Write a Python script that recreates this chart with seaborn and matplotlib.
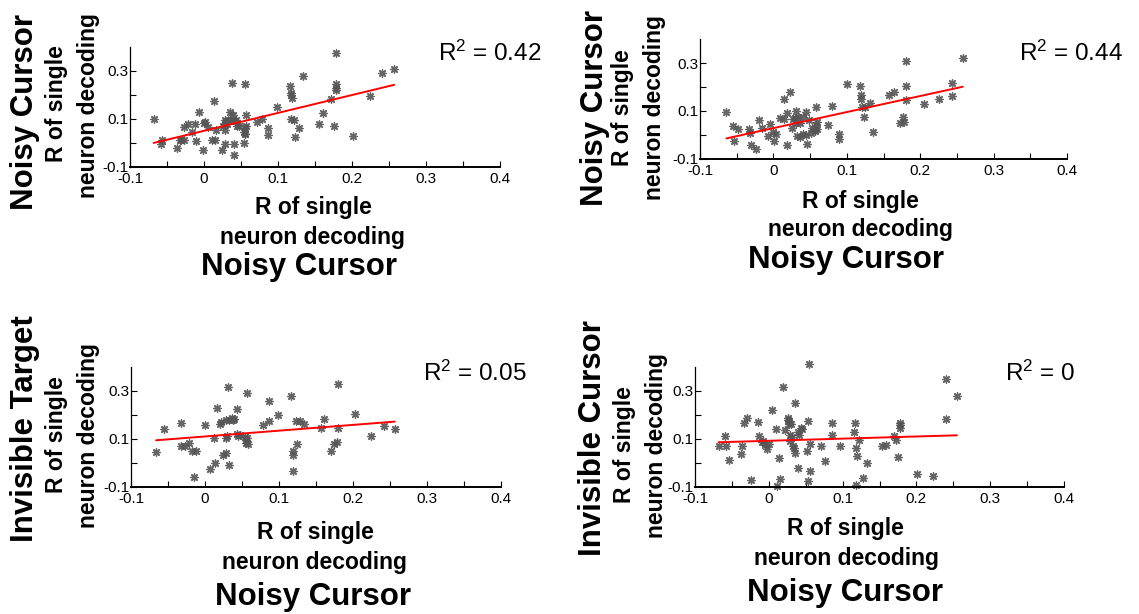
import matplotlib
matplotlib.use("Agg")
import matplotlib.pyplot as plt
import numpy as np
import pandas as pd
import seaborn as sns
from matplotlib.ticker import FixedLocator, NullFormatter

# ---------------- data ----------------
p1_x = [-0.068, -0.057, -0.058, -0.036, -0.033, -0.031, -0.027, -0.027, -0.022, -0.012,
        -0.016, -0.011, -0.007, -0.001, 0.000, 0.001, 0.006, 0.011, 0.014, 0.015,
        0.016, 0.024, 0.029, 0.028, 0.029, 0.029, 0.031, 0.033, 0.035, 0.038,
        0.039, 0.041, 0.041, 0.043, 0.045, 0.054, 0.054, 0.055, 0.056, 0.057,
        0.056, 0.057, 0.072, 0.078, 0.086, 0.087, 0.098, 0.116, 0.117, 0.118,
        0.119, 0.118, 0.121, 0.123, 0.128, 0.134, 0.156, 0.161, 0.171, 0.176,
        0.179, 0.179, 0.179, 0.179, 0.202, 0.224, 0.241, 0.257, 0.037, 0.030,
        0.042, 0.047, 0.055, 0.026]
p1_y = [0.100, 0.013, -0.006, -0.021, 0.010, 0.010, 0.010, 0.066, 0.077, 0.077,
        0.045, 0.008, 0.126, -0.030, 0.082, 0.086, 0.066, 0.013, 0.173, 0.010,
        0.054, -0.031, -0.006, 0.079, 0.093, 0.054, 0.077, 0.096, 0.128, 0.248,
        0.114, -0.006, -0.052, 0.096, 0.068, 0.000, 0.045, 0.038, 0.063, 0.114,
        0.242, 0.068, 0.086, 0.097, 0.061, 0.031, 0.148, 0.234, 0.206, 0.197,
        0.184, 0.100, 0.093, 0.024, 0.061, 0.277, 0.079, 0.123, 0.180, 0.070,
        0.373, 0.242, 0.228, 0.217, 0.028, 0.194, 0.288, 0.307, 0.093, 0.086,
        0.089, 0.068, 0.034, 0.070]

p2_x = [-0.064, -0.055, -0.048, -0.054, -0.033, -0.032, -0.030, -0.024, -0.019, -0.015,
        -0.008, -0.005, -0.001, 0.001, 0.004, 0.009, 0.014, 0.015, 0.018, 0.019,
        0.023, 0.026, 0.030, 0.031, 0.031, 0.032, 0.034, 0.036, 0.040, 0.041,
        0.044, 0.044, 0.046, 0.051, 0.056, 0.058, 0.058, 0.059, 0.059, 0.075,
        0.080, 0.089, 0.089, 0.100, 0.118, 0.120, 0.120, 0.121, 0.124, 0.125,
        0.131, 0.136, 0.158, 0.164, 0.172, 0.176, 0.178, 0.181, 0.181, 0.181,
        0.205, 0.226, 0.243, 0.243, 0.258, 0.027, 0.036, 0.048, 0.053, 0.057]
p2_y = [0.094, 0.038, 0.023, -0.026, 0.023, 0.009, -0.043, -0.061, 0.062, 0.027,
        -0.005, 0.044, 0.013, -0.026, 0.003, 0.072, 0.068, 0.149, -0.043, 0.090,
        0.181, 0.030, 0.069, 0.100, 0.048, -0.005, 0.073, -0.011, 0.073, 0.002,
        0.097, -0.001, -0.040, 0.009, 0.016, 0.041, 0.115, 0.023, 0.055, 0.041,
        0.121, 0.003, -0.019, 0.214, 0.205, 0.165, 0.149, 0.115, 0.076, 0.118,
        0.135, 0.013, 0.165, 0.181, 0.048, 0.076, 0.052, 0.309, 0.205, 0.146,
        0.128, 0.149, 0.216, 0.163, 0.322, 0.065, 0.050, 0.062, 0.030, 0.020]

p3_x = [-0.066, -0.056, -0.033, -0.032, -0.027, -0.022, -0.018, -0.012, -0.015, 0.000,
        0.007, 0.012, 0.014, 0.016, 0.021, 0.025, 0.028, 0.029, 0.030, 0.031,
        0.033, 0.029, 0.038, 0.040, 0.043, 0.044, 0.048, 0.054, 0.056, 0.057,
        0.057, 0.058, 0.079, 0.087, 0.087, 0.099, 0.116, 0.119, 0.119, 0.119,
        0.123, 0.124, 0.129, 0.134, 0.157, 0.161, 0.171, 0.175, 0.179, 0.180,
        0.180, 0.203, 0.225, 0.242, 0.257, 0.032, 0.036, 0.022, 0.045, 0.055]
p3_y = [0.047, 0.140, 0.165, 0.071, 0.071, 0.082, 0.051, 0.051, -0.060, 0.158,
        -0.025, 0.103, 0.001, 0.228, 0.163, 0.033, 0.040, 0.179, 0.113, 0.315,
        -0.011, 0.103, 0.179, 0.182, 0.224, 0.121, 0.117, 0.107, 0.082, 0.293,
        0.103, 0.079, 0.158, 0.176, 0.260, 0.200, 0.279, 0.051, 0.033, -0.033,
        0.176, 0.079, 0.176, 0.161, 0.147, 0.182, 0.051, 0.079, 0.086, 0.328,
        0.147, 0.203, 0.113, 0.154, 0.140, 0.180, 0.185, 0.170, 0.110, 0.095]

p4_x = [-0.068, -0.059, -0.058, -0.054, -0.036, -0.038, -0.034, -0.029, -0.024, -0.014,
        -0.013, -0.009, -0.005, -0.003, 0.000, 0.005, 0.010, 0.011, 0.014, 0.015,
        0.019, 0.022, 0.026, 0.027, 0.028, 0.029, 0.029, 0.031, 0.033, 0.036,
        0.036, 0.039, 0.041, 0.043, 0.045, 0.053, 0.052, 0.053, 0.055, 0.056,
        0.056, 0.071, 0.076, 0.085, 0.085, 0.096, 0.115, 0.117, 0.118, 0.118,
        0.120, 0.122, 0.128, 0.133, 0.154, 0.159, 0.170, 0.173, 0.175, 0.178,
        0.178, 0.178, 0.201, 0.223, 0.240, 0.240, 0.255, 0.026, 0.030, 0.040,
        -0.008, 0.034]
p4_y = [0.069, 0.111, 0.069, 0.013, 0.072, 0.038, 0.164, 0.188, -0.071, 0.170,
        0.111, 0.086, 0.076, 0.058, 0.080, 0.219, 0.142, -0.096, 0.020, -0.068,
        0.318, 0.135, 0.188, 0.174, 0.163, 0.118, 0.090, 0.107, 0.069, 0.248,
        0.041, -0.022, 0.114, 0.146, 0.142, 0.174, 0.048, -0.075, 0.412, -0.033,
        0.080, 0.069, 0.006, 0.167, 0.114, 0.069, 0.128, 0.167, 0.062, -0.092,
        0.027, 0.097, -0.064, -0.003, 0.072, 0.076, 0.111, 0.094, 0.023, 0.167,
        0.156, 0.146, -0.047, -0.057, 0.349, 0.184, 0.279, 0.180, 0.160, 0.130,
        0.090, 0.060]

row_titles = ["Noisy Cursor", "Noisy Cursor", "Invisible Target", "Invisible Cursor"]
col_title = "Noisy Cursor"
r2_values = ["0.42", "0.44", "0.05", "0"]
label_lines = ["R of single", "neuron decoding"]
x_ticks = [-0.1, 0.0, 0.1, 0.2, 0.3, 0.4]
x_tick_labels = ["-0.1", "0", "0.1", "0.2", "0.3", "0.4"]
x_minor = [-0.05, 0.05, 0.15, 0.25, 0.35]
y_ticks = [-0.1, 0.1, 0.3]
y_tick_labels = ["-0.1", "0.1", "0.3"]
y_minor = [0.0, 0.2]

# ---------------- styling ----------------
sns.set_style("white")
plt.rcParams["font.family"] = ["Liberation Sans", "DejaVu Sans"]
plt.rcParams["axes.unicode_minus"] = False
plt.rcParams["mathtext.fontset"] = "custom"
plt.rcParams["mathtext.rm"] = "Liberation Sans"
plt.rcParams["mathtext.it"] = "Liberation Sans"
plt.rcParams["mathtext.default"] = "regular"
plt.rcParams["text.color"] = "black"
plt.rcParams["axes.labelcolor"] = "black"
plt.rcParams["xtick.color"] = "black"
plt.rcParams["ytick.color"] = "black"

W, H = 1139, 614
fig = plt.figure(figsize=(W / 100, H / 100), dpi=100)
fig.patch.set_facecolor("white")


def rect(l, t, r, b):
    return [l / W, 1 - b / H, (r - l) / W, (b - t) / H]


def ftext(x, y, s, **kw):
    fig.text(x / W, 1 - y / H, s, color="black", **kw)


panels = [
    dict(x=p1_x, y=p1_y, box=(130, 46.5, 500, 166.7),
         r2=(438, 53), xl=((313, 208), (313, 238), (299, 267)),
         yl=((25, 112), (57, 104), (89, 106))),
    dict(x=p2_x, y=p2_y, box=(700, 39.5, 1067, 158.5),
         r2=(1019, 53), xl=((860, 202), (860, 230), (846, 260)),
         yl=((595, 108), (623, 108), (654, 108))),
    dict(x=p3_x, y=p3_y, box=(131, 367, 500.5, 486.7),
         r2=(423, 373), xl=((315, 533), (315, 563), (313, 597)),
         yl=((25, 429), (57, 435), (89, 436))),
    dict(x=p4_x, y=p4_y, box=(695, 367, 1064, 486.7),
         r2=(1005, 373), xl=((845, 528), (846, 558), (845, 593)),
         yl=((593, 438), (625, 445), (657, 445))),
]

star = (8, 2, 0)
for i, p in enumerate(panels):
    ax = fig.add_axes(rect(*p["box"]))
    df = pd.DataFrame({"x": p["x"], "y": p["y"]})
    sns.regplot(data=df, x="x", y="y", ax=ax, ci=None, marker=star,
                color="#555555",
                scatter_kws=dict(s=28, linewidths=1.0, alpha=0.9, clip_on=False),
                line_kws=dict(color="red", lw=1.4))
    ax.set_xlim(-0.1, 0.4)
    ax.set_ylim(-0.1, 0.4)
    ax.set_xlabel("")
    ax.set_ylabel("")
    ax.xaxis.set_major_locator(FixedLocator(x_ticks))
    ax.set_xticklabels(x_tick_labels)
    ax.xaxis.set_minor_locator(FixedLocator(x_minor))
    ax.yaxis.set_major_locator(FixedLocator(y_ticks))
    ax.set_yticklabels(y_tick_labels)
    ax.yaxis.set_minor_locator(FixedLocator(y_minor))
    ax.yaxis.set_minor_formatter(NullFormatter())
    ax.tick_params(which="both", direction="in", length=4, width=0.8,
                   colors="black", labelsize=11)
    ax.tick_params(axis="x", which="both", bottom=True, pad=4)
    ax.tick_params(axis="y", which="both", left=True, pad=1)
    for s in ["top", "right"]:
        ax.spines[s].set_visible(False)
    ax.spines["left"].set_linewidth(0.9)
    ax.spines["bottom"].set_linewidth(1.4)
    ax.spines["left"].set_color("black")
    ax.spines["bottom"].set_color("black")
    ax.patch.set_alpha(0)

    # R^2 annotation
    ftext(p["r2"][0], p["r2"][1], "R$^{2}$ = " + r2_values[i],
          fontsize=17.5, ha="left", va="center")
    # x labels + column title
    (a, b, c) = p["xl"]
    ftext(a[0], a[1], label_lines[0], fontsize=16.5, fontweight="bold",
          ha="center", va="center")
    ftext(b[0], b[1], label_lines[1], fontsize=16.5, fontweight="bold",
          ha="center", va="center")
    ftext(c[0], c[1], col_title, fontsize=22.5, fontweight="bold",
          ha="center", va="center")
    # y labels + row title
    (a, b, c) = p["yl"]
    ftext(a[0], a[1], row_titles[i], fontsize=22.5, fontweight="bold",
          ha="center", va="center", rotation=90)
    ftext(b[0], b[1], label_lines[0], fontsize=16.5, fontweight="bold",
          ha="center", va="center", rotation=90)
    ftext(c[0], c[1], label_lines[1], fontsize=16.5, fontweight="bold",
          ha="center", va="center", rotation=90)

fig.savefig("out.png", dpi=100, facecolor="white")
